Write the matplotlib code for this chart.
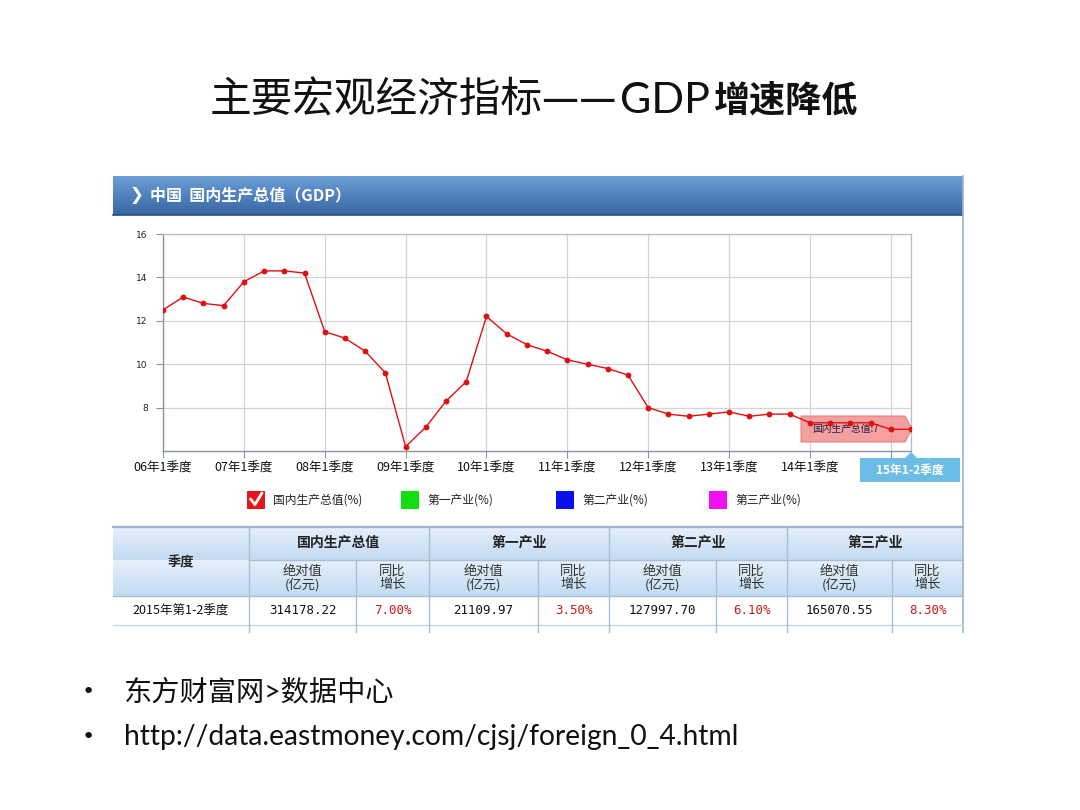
import numpy as np
import matplotlib
matplotlib.use('Agg')
import matplotlib.pyplot as plt
from matplotlib.patches import Rectangle, Polygon

plt.rcParams['font.family'] = ['Noto Sans CJK SC', 'DejaVu Sans']

# 数据: 国内生产总值累计同比增长(%), 06年1季度 - 15年1-2季度
quarters = [f'{y:02d}年{q}季度' for y in range(6, 16) for q in range(1, 5)][:38]
gdp_growth = [12.5, 13.1, 12.8, 12.7,
              13.8, 14.3, 14.3, 14.2,
              11.5, 11.2, 10.6, 9.6,
              6.2, 7.1, 8.3, 9.2,
              12.2, 11.4, 10.9, 10.6,
              10.2, 10.0, 9.8, 9.5,
              8.0, 7.7, 7.6, 7.7,
              7.8, 7.6, 7.7, 7.7,
              7.3, 7.3, 7.3, 7.3,
              7.0, 7.0]
year_ticks = list(range(0, 38, 4))
# 15年1季度的标签被提示框遮住
year_labels = [quarters[i] for i in year_ticks[:-1]] + ['']
y_ticks = [8, 10, 12, 14, 16]

legend_names = ['国内生产总值(%)', '第一产业(%)', '第二产业(%)', '第三产业(%)']
legend_colors = ['#e8141c', '#10e010', '#0a10e8', '#f010f0']

table_groups = ['国内生产总值', '第一产业', '第二产业', '第三产业']
table_abs = ['314178.22', '21109.97', '127997.70', '165070.55']
table_pct = ['7.00%', '3.50%', '6.10%', '8.30%']

W, H = 1080, 810
fig = plt.figure(figsize=(10.8, 8.1), dpi=100)
fig.patch.set_facecolor('white')

# 像素坐标的覆盖层
ov = fig.add_axes([0, 0, 1, 1])
ov.set_xlim(0, W)
ov.set_ylim(H, 0)
ov.axis('off')
ov.patch.set_alpha(0)

# 标题
title_parts = [('主要宏观经济指标——', dict(family=['Noto Sans CJK SC'], weight='light', size=30)),
               ('GDP', dict(family=['Lato', 'DejaVu Sans'], weight='normal', size=31)),
               ('增速降低', dict(family=['Noto Sans CJK SC'], weight='black', size=26))]
renderer = fig.canvas.get_renderer()
x0 = 210
for txt, kw in title_parts:
    t = ov.text(x0, 101, txt, ha='left', va='center', color='#111111', **kw)
    bb = t.get_window_extent(renderer)
    x0 += bb.width * W / fig.bbox.width + 3

# 面板标题栏 (渐变)
grad = np.linspace(0, 1, 50).reshape(-1, 1)
top = np.array([0.42, 0.62, 0.84])
bot = np.array([0.22, 0.40, 0.64])
img = top + (bot - top) * grad[:, :, None]
ov.imshow(img, extent=[113, 963, 215, 176], aspect='auto', zorder=1)
ov.plot([113, 963], [214.5, 214.5], color='#2a4f80', lw=1.2, zorder=2)
ov.text(136, 195, '❯', color='white', fontsize=12, fontweight='bold', va='center', ha='center',
        family=['DejaVu Sans'], zorder=3)
ov.text(150, 195, '中国  国内生产总值（GDP）', color='white', fontsize=11.5, fontweight='bold',
        va='center', ha='left', zorder=3)
# 面板右边线
ov.plot([962.5, 962.5], [176, 632], color='#9fb4cc', lw=1.2, zorder=2)

# 折线图
ax = fig.add_axes([163 / W, 1 - 451 / H, (911 - 163) / W, (451 - 234) / H])
ax.set_zorder(2)
ax.plot(range(len(gdp_growth)), gdp_growth, color='#e01010', lw=1.0, marker='o',
        markersize=4.2, markeredgewidth=0, zorder=3)
ax.set_xlim(0, 37)
ax.set_ylim(6, 16)
ax.set_xticks(year_ticks)
ax.set_xticklabels(year_labels, fontsize=9, color='#111111')
ax.set_yticks(y_ticks)
ax.set_yticklabels([str(v) for v in y_ticks], fontsize=6.5, color='#222222',
                   family=['DejaVu Sans'])
ax.grid(True, color='#d4d4d8', lw=0.9)
ax.tick_params(axis='both', length=5, color='#8a94a3', width=0.8, pad=3)
ax.tick_params(axis='y', pad=6)
for side in ['left', 'bottom']:
    ax.spines[side].set_color('#8a94a3')
    ax.spines[side].set_linewidth(1.0)
for side in ['top', 'right']:
    ax.spines[side].set_color('#b8bcc4')
    ax.spines[side].set_linewidth(0.9)

# 提示框 (国内生产总值:7)
tip = Polygon([[801, 416], [905, 416], [912, 429], [905, 442], [801, 442]], closed=True,
              facecolor='#f28f8f', edgecolor='#f07070', alpha=0.85, lw=0.8,
              transform=ov.transData, clip_on=False, zorder=2)
ax.add_patch(tip)
ax.text(812, 429, '国内生产总值:7', transform=ov.transData, fontsize=7, color='#222244',
        va='center', ha='left', zorder=2.5, clip_on=False)

# 横轴标签提示框
ov2 = fig.add_axes([0, 0, 1, 1])
ov2.set_xlim(0, W)
ov2.set_ylim(H, 0)
ov2.axis('off')
ov2.set_zorder(5)
ov2.add_patch(Rectangle((860, 458), 100, 24, facecolor='#6cbde6', edgecolor='none'))
ov2.add_patch(Polygon([[905, 458], [911, 452], [917, 458]], closed=True,
                      facecolor='#6cbde6', edgecolor='none'))
ov2.text(910, 470, '15年1-2季度', color='white', fontsize=8.5, fontweight='bold',
         ha='center', va='center')

# 图例
leg_x = [247, 401, 556, 709]
for i, (name, col) in enumerate(zip(legend_names, legend_colors)):
    ov.add_patch(Rectangle((leg_x[i], 491), 18, 18, facecolor=col, edgecolor='none', zorder=2))
    ov.text(leg_x[i] + 26, 500, name, fontsize=8.5, color='#222222', va='center', ha='left')
ov.plot([250.5, 255, 262], [499, 504.5, 493], color='white', lw=2.0, zorder=3,
        solid_capstyle='round')

# 表格
col_x = [113, 249, 356, 429, 538, 609, 716, 787, 892, 963]
hdr = np.linspace(0, 1, 50).reshape(-1, 1)
htop = np.array([0.90, 0.94, 0.98])
hbot = np.array([0.76, 0.86, 0.95])
himg = htop + (hbot - htop) * hdr[:, :, None]
ov.imshow(himg, extent=[113, 963, 560, 527], aspect='auto', zorder=1)
ov.imshow(himg, extent=[113, 963, 596, 560], aspect='auto', zorder=1)
line_c = '#a9bfd6'
ov.plot([113, 963], [527, 527], color='#9ab5d0', lw=1.6, zorder=2)
ov.plot([249, 963], [560, 560], color=line_c, lw=1, zorder=2)
ov.plot([113, 963], [596, 596], color=line_c, lw=1, zorder=2)
ov.plot([113, 963], [625, 625], color='#c8d4e2', lw=1, zorder=2)
for i, x in enumerate(col_x[1:-1]):
    top_y = 527 if i % 2 == 0 else 560
    ov.plot([x, x], [top_y, 632], color=line_c, lw=1, zorder=2)

ov.text(181, 562, '季度', fontsize=9.5, fontweight='bold', ha='center', va='center', color='#222222')
for g in range(4):
    xa, xb, xc = col_x[1 + 2 * g], col_x[2 + 2 * g], col_x[3 + 2 * g]
    ov.text((xa + xc) / 2, 543, table_groups[g], fontsize=10, fontweight='bold',
            ha='center', va='center', color='#222222')
    ov.text((xa + xb) / 2, 578, '绝对值\n(亿元)', fontsize=9.5, ha='center', va='center',
            color='#333333', linespacing=1.0)
    ov.text((xb + xc) / 2, 578, '同比\n增长', fontsize=9.5, ha='center', va='center',
            color='#333333', linespacing=1.0)
    ov.text((xa + xb) / 2, 611, table_abs[g], fontsize=9, ha='center', va='center',
            color='#111111', family=['DejaVu Sans Mono'])
    ov.text((xb + xc) / 2, 611, table_pct[g], fontsize=9, ha='center', va='center',
            color='#cc1a1a', family=['DejaVu Sans Mono'])
ov.text(181, 611, '2015年第1-2季度', fontsize=9, ha='center', va='center', color='#111111')

# 底部说明
for yy, txt in [(692, '东方财富网>数据中心'), (737, 'http://data.eastmoney.com/cjsj/foreign_0_4.html')]:
    ov.text(88, yy, '•', fontsize=16, ha='center', va='center', color='#111111',
            family=['DejaVu Sans'])
    ov.text(124, yy, txt, fontsize=20.3, ha='left', va='center', color='#111111',
            family=['Lato', 'Noto Sans CJK SC'], weight='normal')

fig.savefig('out.png', dpi=100)
